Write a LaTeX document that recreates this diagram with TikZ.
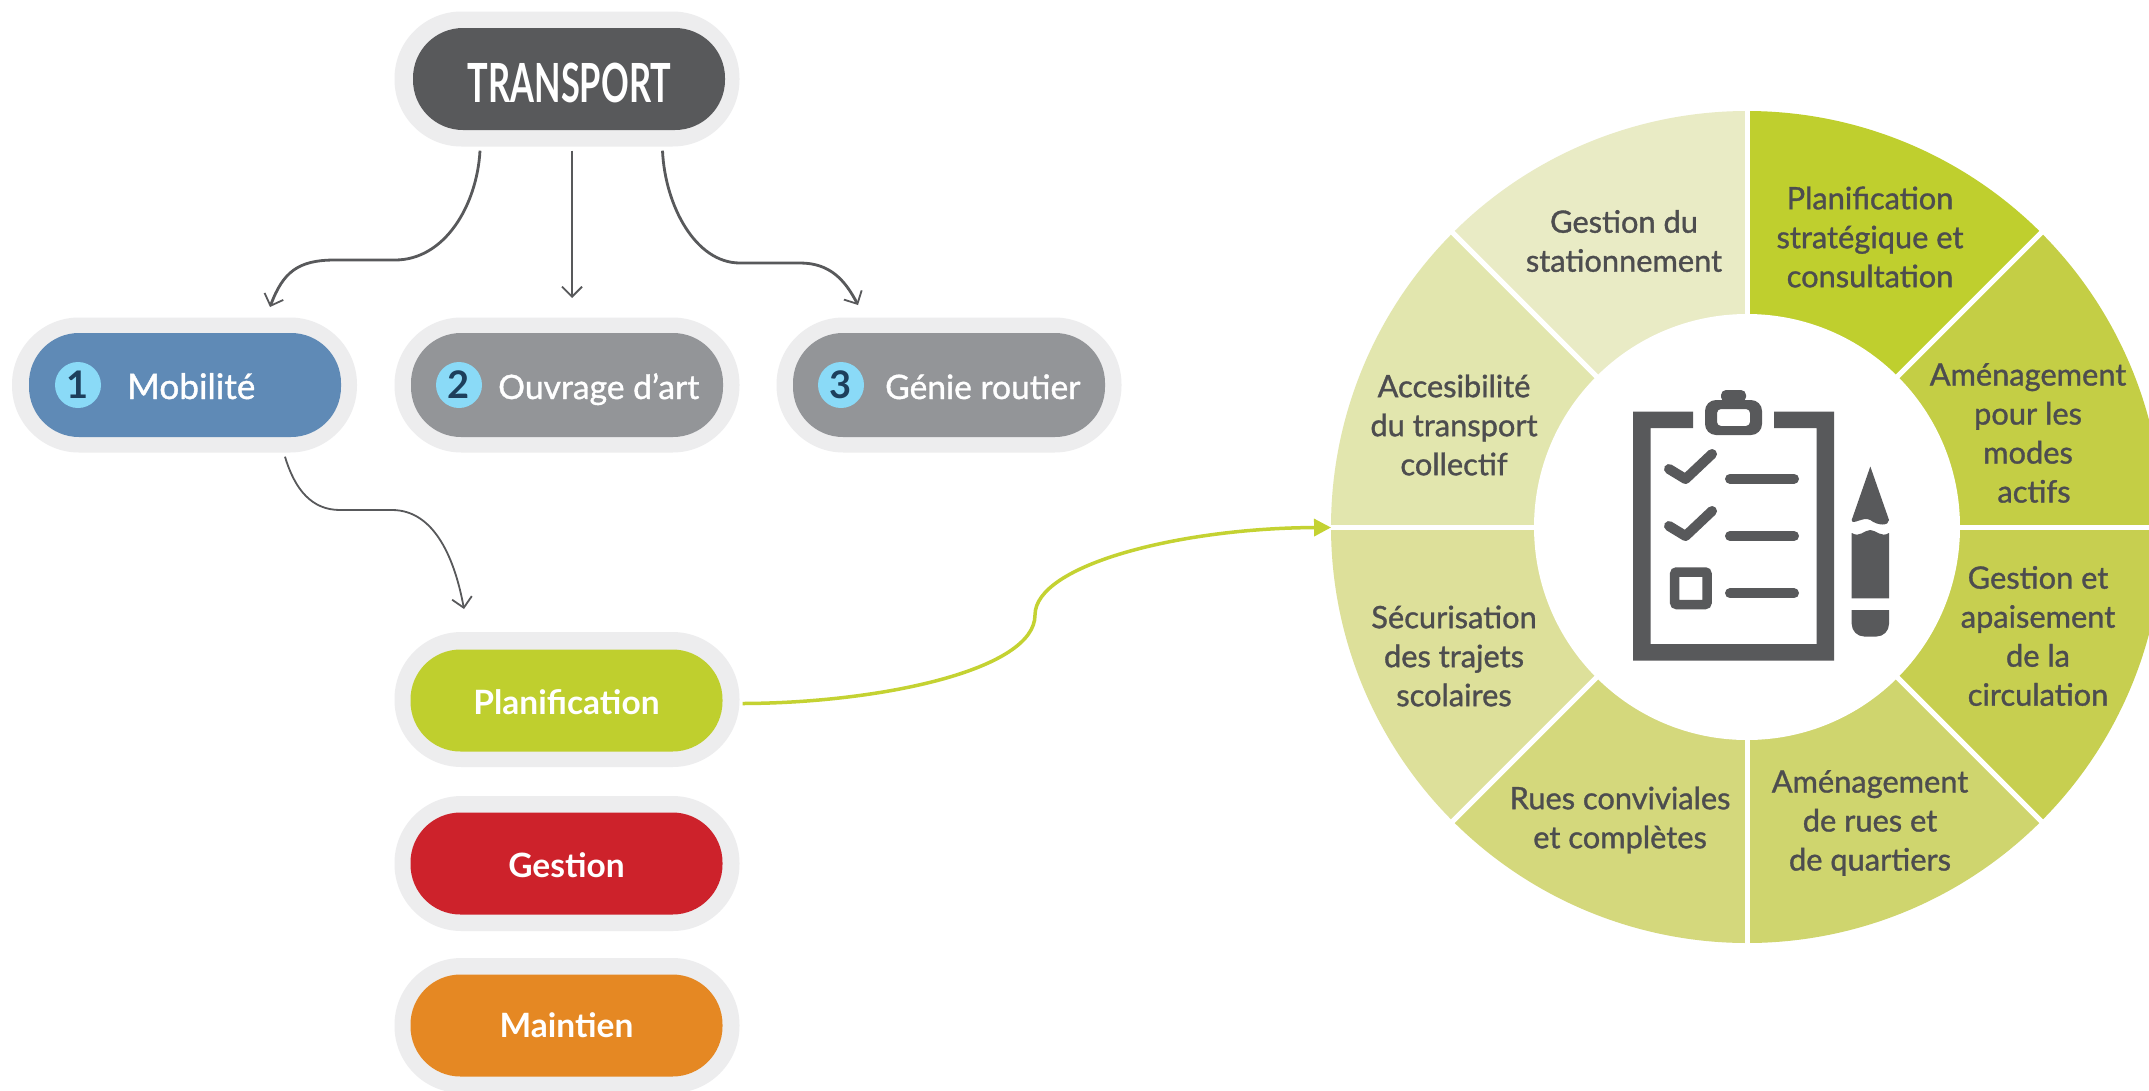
\documentclass[tikz,border=0pt]{standalone}
\usepackage{fontspec}
\setmainfont{Lato}
\newfontfamily\semi{Lato}[FakeBold=1.1]
\newfontfamily\bld{Lato Bold}
\usetikzlibrary{arrows.meta,calc}
\definecolor{halo}{HTML}{EDEDEE}
\definecolor{dk}{HTML}{58595B}
\definecolor{txt}{HTML}{4D4D4F}
\definecolor{blu}{HTML}{5F8AB6}
\definecolor{gry}{HTML}{939598}
\definecolor{lim}{HTML}{BFCF2E}
\definecolor{rd}{HTML}{CD222B}
\definecolor{org}{HTML}{E58823}
\definecolor{cyn}{HTML}{8ADAF7}
\definecolor{nav}{HTML}{1D3F5C}
\definecolor{arw}{HTML}{C4D232}
\tikzset{
  outerpill/.style={fill=halo,inner sep=0pt,minimum width=345pt,minimum height=135pt,rounded corners=67pt},
  innerpill/.style={inner sep=0pt,minimum width=312pt,minimum height=102pt,rounded corners=50pt},
  pilltext/.style={inner sep=0pt,text=white,font=\bld\fontsize{33.5}{36}\selectfont},
  numdot/.style={circle,fill=cyn,minimum size=46pt,inner sep=0pt,text=nav,font=\bld\fontsize{38}{36}\selectfont},
  pilllabel/.style={anchor=base west,inner sep=0pt,text=white,font=\semi\fontsize{33.6}{36}\selectfont},
  wheeltext/.style={align=center,inner sep=0pt,text=txt,font=\semi\fontsize{30.8}{39}\selectfont},
  conn/.style={draw=dk,line width=1.8pt,-{Straight Barb[length=10pt,width=20pt,line width=1.8pt]}},
  icon/.style={fill=dk,draw=none},
  iconline/.style={draw=dk,line width=10pt,line cap=round,line join=round},
}
\begin{document}
\begin{tikzpicture}[x=1pt,y=-1pt]
\useasboundingbox (0,0) rectangle (2149,1090);
\clip (0,0) rectangle (2149,1090);
\fill[white] (0,0) rectangle (2149,1090);

% pills
\node[outerpill] (oT) at (567,79) {};
\node[innerpill,fill=dk] (T) at (569,79) {};
\node[pilltext,font=\bld\fontsize{54}{54}\selectfont] (tT) at (569.5,82.5) {\scalebox{.637}[1]{TRANSPORT}};
\node[outerpill] (oM) at (184.5,385) {};
\node[innerpill,fill=blu,minimum height=104pt] (M) at (185,385) {};
\node[outerpill] (oO) at (567,385) {};
\node[innerpill,fill=gry,minimum height=104pt] (O) at (567,385) {};
\node[outerpill] (oG) at (949,385) {};
\node[innerpill,fill=gry,minimum height=104pt] (G) at (949,385) {};
\node[outerpill] (oP) at (567,699.5) {};
\node[innerpill,fill=lim] (P) at (566.5,700.5) {};
\node[pilltext] (tP) at (566.5,702) {Planification};
\node[outerpill] (oA) at (567,863.5) {};
\node[innerpill,fill=rd] (A) at (566.5,863.5) {};
\node[pilltext] (tA) at (566.5,865) {Gestion};
\node[outerpill] (oN) at (567,1025.5) {};
\node[innerpill,fill=org] (N) at (566.5,1025.5) {};
\node[pilltext] (tN) at (566.5,1025.5) {Maintien};

\node[numdot] (n1) at (78,385) {1};
\node[numdot] (n2) at (459,385) {2};
\node[numdot] (n3) at (841,385) {3};
\node[pilllabel,font=\semi\fontsize{35.2}{36}\selectfont] (l1) at (127,399) {Mobilité};
\node[pilllabel] (l2) at (498,399) {Ouvrage d’art};
\node[pilllabel] (l3) at (885,399) {Génie routier};

% connectors
\coordinate (s1) at ($(oT.south)+(-87,4)$);
\coordinate (s2) at ($(oT.south)+(5,4)$);
\coordinate (s3) at ($(oT.south)+(95.5,4)$);
\coordinate (e1) at (270,307);
\coordinate (e2) at (572,298);
\coordinate (e3) at (858,305);
\coordinate (s4) at ($(oM.south)+(100.5,4)$);
\coordinate (e4) at (464,609);
\draw[conn,line width=2.8pt] (s1) .. controls (477,205) and (445,260) .. (395,260) -- (335,260) .. controls (298,260) and (283,272) .. (e1);
\draw[conn] (s2) -- (e2);
\draw[conn,line width=2.8pt] (s3) .. controls (665,205) and (695,263) .. (740,263) -- (800,263) .. controls (830,263) and (845,280) .. (e3);
\draw[conn] (s4) .. controls (295,490) and (312,510) .. (340,510) -- (392,510) .. controls (435,510) and (455,560) .. (e4);

% wheel
\begin{scope}[shift={(1747,527)},x=1pt,y=1pt]
\foreach \a/\c in {45/BFCF2E,0/C4CE45,-45/C7CF50,-90/CFD56E,-135/D4D87C,180/DDE09A,135/E2E6AE,90/E9EBC5}{
  \definecolor{sc}{HTML}{\c}
  \fill[sc] (0,0) -- (\a:416) arc[start angle=\a,delta angle=45,radius=416] -- cycle;
}
\foreach \a in {0,45,...,315}{
  \draw[white,line width=5pt] (0,0) -- (\a:420);
}
\fill[white] (0,0) circle[radius=213];
\end{scope}

\coordinate (wheelW) at (1331,527.5);
\coordinate (s5) at ($(oP.east)+(3,4)$);
\draw[arw,line width=3.5pt,-{Triangle[length=17pt,width=17pt]}] (s5) .. controls (880,703) and (1035,670) .. (1035,615) .. controls (1035,565) and (1180,528) .. (wheelW);

% icon
\fill[icon,even odd rule] (1693,411.5) -- (1633,411.5) -- (1633,660.5) -- (1834,660.5) -- (1834,411.5) -- (1774,411.5) -- (1774,428) -- (1816.5,428) -- (1816.5,644) -- (1650.5,644) -- (1650.5,428) -- (1693,428) -- cycle;
\fill[icon,even odd rule,rounded corners=11pt] (1705,400) rectangle (1762,435) [rounded corners=4pt] (1717,409) rectangle (1750,426);
\fill[icon,rounded corners=5pt] (1721,390) rectangle (1746,402);
\draw[iconline] (1669,469) -- (1685.5,479) -- (1712,454);
\draw[iconline] (1669,526) -- (1685.5,536) -- (1712,511);
\draw[iconline] (1730,478.7) -- (1794,478.7);
\draw[iconline] (1730,536) -- (1794,536);
\draw[iconline] (1730,593.3) -- (1794,593.3);
\draw[dk,line width=9.5pt,rounded corners=2pt] (1674.7,572) rectangle (1707,604.5);
% pencil
\fill[icon] (1870.3,466.5) -- (1889,520) .. controls (1889,526) and (1878,526) .. (1870.3,520) .. controls (1863,516) and (1852,526) .. (1851.7,520) -- cycle;
\fill[icon] (1851.7,533) .. controls (1860,538) and (1864,530) .. (1870.3,530) .. controls (1876,530) and (1881,538) .. (1889,533) -- (1889,598.3) -- (1851.7,598.3) -- cycle;
\fill[icon] (1851.7,610) -- (1889,610) -- (1889,624) arc[start angle=0,end angle=90,radius=12.5] -- (1864.2,636.5) arc[start angle=90,end angle=180,radius=12.5] -- cycle;

% wheel labels
\node[wheeltext] (w1) at (1870,237) {Planification\\stratégique et\\consultation};
\node[wheeltext] (w2) at (2028,433) {Aménagement\\pour les\\modes\\\hspace{12pt}actifs};
\node[wheeltext] (w3) at (2038,636) {Gestion et\\apaisement\\de la\\circulation};
\node[wheeltext] (w4) at (1870,823) {Aménagement\\de rues et\\de quartiers};
\node[wheeltext] (w5) at (1620,820) {Rues conviviales\\et complètes};
\node[wheeltext] (w6) at (1454,656) {Sécurisation\\des trajets\\scolaires};
\node[wheeltext] (w7) at (1454,425) {Accesibilité\\du transport\\collectif};
\node[wheeltext] (w8) at (1624,241) {Gestion du\\stationnement};
\end{tikzpicture}
\end{document}
